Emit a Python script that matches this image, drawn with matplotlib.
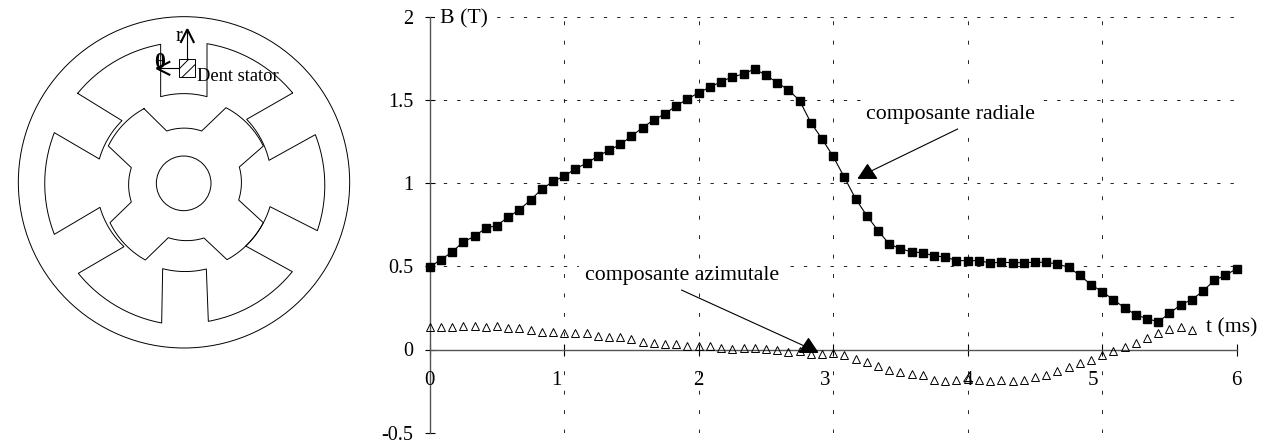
import numpy as np
import matplotlib
matplotlib.use('Agg')
import matplotlib.pyplot as plt

plt.rcParams['font.family'] = ['Liberation Serif', 'DejaVu Serif']
plt.rcParams['lines.scale_dashes'] = False

W, H = 1267, 444

# values read every 1/12 ms
radial = [0.496, 0.54, 0.586, 0.647, 0.68, 0.73, 0.745, 0.796, 0.84, 0.898, 0.964, 1.01,
          1.042, 1.086, 1.12, 1.162, 1.198, 1.232, 1.282, 1.334, 1.38, 1.416, 1.466, 1.504,
          1.544, 1.576, 1.61, 1.638, 1.656, 1.686, 1.648, 1.604, 1.56, 1.496, 1.364, 1.266,
          1.16, 1.034, 0.906, 0.804, 0.715, 0.633, 0.606, 0.586, 0.582, 0.562, 0.556, 0.534,
          0.534, 0.534, 0.52, 0.524, 0.522, 0.522, 0.524, 0.524, 0.514, 0.494, 0.446, 0.39,
          0.347, 0.30, 0.25, 0.209, 0.185, 0.167, 0.217, 0.269, 0.30, 0.351, 0.416, 0.446, 0.486]
azimuthal = [0.135, 0.135, 0.135, 0.14, 0.14, 0.133, 0.14, 0.127, 0.127, 0.115, 0.106, 0.104,
             0.102, 0.102, 0.098, 0.084, 0.078, 0.076, 0.062, 0.048, 0.038, 0.036, 0.032, 0.022,
             0.02, 0.02, 0.012, 0.006, 0.01, 0.012, 0.006, -0.002, -0.018, -0.008, -0.026, -0.028,
             -0.024, -0.032, -0.058, -0.078, -0.098, -0.124, -0.135, -0.147, -0.153, -0.183, -0.187, -0.185,
             -0.18, -0.185, -0.189, -0.185, -0.189, -0.185, -0.163, -0.151, -0.127, -0.106, -0.082, -0.062,
             -0.036, -0.01, 0.016, 0.04, 0.07, 0.098, 0.122, 0.133, 0.12]
step = 1 / 12
x_ticks = [0, 1, 2, 3, 4, 5, 6]
x_shift = [0, -8, 0, -8, 0, -9, 0]
y_ticks = [-0.5, 0, 0.5, 1, 1.5, 2]
y_labels = ['-0.5', '0', '0.5', '1', '1.5', '2']

# motor outline, corner points, 'a' = arc to next corner, 'l' = straight line
stator = [(233, 280, 'a'), (482, 133, 'l'), (482, 290, 'a'), (621, 290, 'l'), (621, 131, 'a'),
          (878, 279, 'l'), (740, 358, 'a'), (807, 481, 'l'), (946, 404, 'a'), (952, 692, 'l'),
          (810, 620, 'a'), (737, 738, 'l'), (877, 815, 'a'), (625, 964, 'l'), (619, 807, 'a'),
          (488, 806, 'l'), (485, 969, 'a'), (235, 820, 'l'), (372, 740, 'a'), (300, 622, 'l'),
          (163, 703, 'a'), (163, 398, 'l'), (298, 477, 'a'), (366, 362, 'l')]
rotor = [(432, 326, 'l'), (500, 393, 'a'), (605, 393, 'l'), (678, 323, 'a'), (790, 438, 'l'),
         (718, 501, 'a'), (716, 600, 'l'), (790, 668, 'a'), (681, 779, 'l'), (612, 714, 'a'),
         (505, 713, 'l'), (436, 780, 'a'), (330, 668, 'l'), (394, 606, 'a'), (394, 503, 'l'),
         (325, 438, 'a')]
motor_center = (552, 548)

# flat arrow tip used on the two callouts
flat_tri = [(-1, -0.75), (1, -0.75), (0, 0.75), (-1, -0.75)]


def outline(corners):
    xs, ys = [], []
    n = len(corners)
    for i in range(n):
        x1, y1, kind = corners[i]
        x2, y2, _ = corners[(i + 1) % n]
        if kind == 'l':
            xs += [x1, x2]
            ys += [y1, y2]
            continue
        # arc around the motor centre, short way
        dx1, dy1 = x1 - motor_center[0], y1 - motor_center[1]
        dx2, dy2 = x2 - motor_center[0], y2 - motor_center[1]
        a1, a2 = np.arctan2(dy1, dx1), np.arctan2(dy2, dx2)
        da = (a2 - a1 + np.pi) % (2 * np.pi) - np.pi
        s = np.linspace(0, 1, 30)
        r = np.hypot(dx1, dy1) * (1 - s) + np.hypot(dx2, dy2) * s
        xs += list(motor_center[0] + r * np.cos(a1 + da * s))
        ys += list(motor_center[1] + r * np.sin(a1 + da * s))
    xs.append(xs[0])
    ys.append(ys[0])
    return xs, ys


fig = plt.figure(figsize=(W / 100, H / 100), dpi=100)

# left: motor section, axes in 3x pixel units
am = fig.add_axes([0, 0, 370 / W, 1])
am.set_xlim(0, 1110)
am.set_ylim(1332, 0)
am.axis('off')
lw_m = 0.7
am.add_patch(plt.Circle((552, 547), 497, fill=False, ec='black', lw=lw_m))
am.add_patch(plt.Circle((551, 550), 82, fill=False, ec='black', lw=lw_m))
am.plot(*outline(stator), color='black', lw=lw_m)
am.plot(*outline(rotor), color='black', lw=lw_m)
am.add_patch(plt.Rectangle((538, 178), 47, 54, fill=False, ec='black', lw=lw_m))
am.plot([538, 566], [206, 178], color='black', lw=lw_m)
am.plot([546, 585], [232, 194], color='black', lw=lw_m)
# thin shafts, heavy heads
am.plot([562, 562], [178, 95], color='black', lw=0.8)
am.plot([538, 478], [205, 205], color='black', lw=0.8)
am.plot([543, 562, 581], [126, 88, 126], color='black', lw=1.5, solid_joinstyle='miter')
am.plot([508, 470, 508], [186, 205, 224], color='black', lw=1.5, solid_joinstyle='miter')
am.text(536, 110, 'r', fontsize=14.5, ha='center', va='center')
am.text(480, 188, 'θ', fontsize=15, ha='center', va='center', fontweight='bold')
am.text(590, 230, 'Dent stator', fontsize=13.3, ha='left', va='center')

# right: B(t)
ax = fig.add_axes([429.7 / W, (H - 432.7) / H, (1236.7 - 429.7) / W, (432.7 - 16.7) / H])
ax.set_xlim(0, 6)
ax.set_ylim(-0.5, 2)
ax.set_axisbelow(True)
ax.patch.set_visible(False)
for s in ['top', 'right']:
    ax.spines[s].set_visible(False)
ax.spines['bottom'].set_position(('data', 0))
for s in ['left', 'bottom']:
    ax.spines[s].set_color('#555555')
    ax.spines[s].set_linewidth(1.0)

ax.set_xticks(x_ticks)
ax.set_yticks(y_ticks)
ax.set_yticklabels(y_labels)
ax.set_xticklabels([])
ax.tick_params(axis='y', direction='inout', length=7.5, width=0.8, color='black', labelsize=14.5, pad=8)
ax.tick_params(axis='x', direction='inout', length=9, width=0.8, color='black')
ax.grid(axis='y', color='#222222', lw=0.7, linestyle=(0, (2.4, 7.2)))
ax.grid(axis='x', color='#222222', lw=0.7, linestyle=(0, (2.8, 11.2)))

t_r = np.arange(len(radial)) * step
t_a = np.arange(len(azimuthal)) * step
ax.plot(t_r, radial, color='black', lw=0.8, marker='s', ms=6.2, mfc='black', mec='black',
        clip_on=False, zorder=4)
ax.plot(t_a, azimuthal, ls='none', marker='^', ms=6.2, mfc='none', mec='black', mew=0.7,
        clip_on=False, zorder=4)

for t, dx in zip(x_ticks, x_shift):
    ax.annotate(str(t), xy=(t, 0), xytext=(dx * 0.72, -22.5), textcoords='offset points',
                ha='center', va='center', fontsize=15, zorder=3)

box = dict(fc='white', ec='none', pad=4)
ax.text(3.245, 1.415, 'composante radiale', fontsize=15.7, ha='left', va='center', bbox=box, zorder=3)
ax.text(1.153, 0.445, 'composante azimutale', fontsize=15.7, ha='left', va='center', bbox=box, zorder=3)
ax.text(0.078, 1.985, 'B (T)', fontsize=15.7, ha='left', va='center', bbox=box, zorder=3)
ax.text(5.77, 0.13, 't (ms)', fontsize=15.7, ha='left', va='center', clip_on=False, zorder=5)

ax.plot([3.925, 3.25], [1.325, 1.06], color='black', lw=0.8, zorder=5)
ax.plot([3.25], [1.07], marker=flat_tri, ms=13, mfc='black', mec='black', ls='none', zorder=5)
ax.plot([1.873, 2.81], [0.357, 0.012], color='black', lw=0.8, zorder=5)
ax.plot([2.81], [0.03], marker=flat_tri, ms=13, mfc='black', mec='black', ls='none', zorder=5)

fig.savefig('out.png', dpi=100)
